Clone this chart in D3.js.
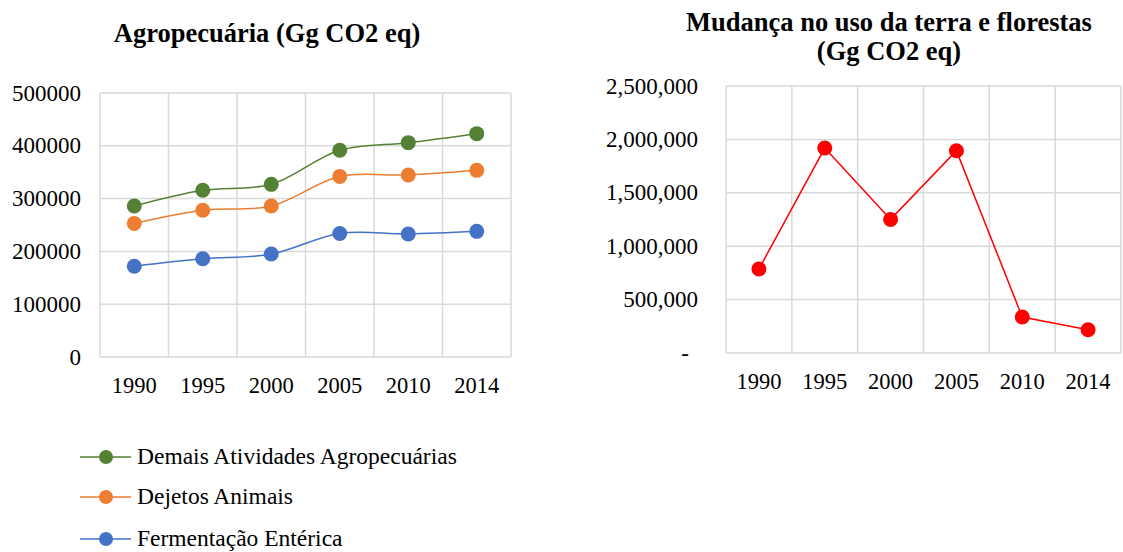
<!DOCTYPE html>
<html><head><meta charset="utf-8">
<script src="https://cdn.jsdelivr.net/npm/d3@7"></script>
<style>body{margin:0;background:#fff}</style>
</head><body><svg id="c" width="1123" height="552"></svg>
<script>
const years = ["1990","1995","2000","2005","2010","2014"];
const demais = [286000,315700,327000,391500,406000,423000];
const dejetos = [253000,278000,286000,342000,344700,353500];
const fermentacao = [172000,186000,195000,234000,233000,238000];
const mudanca = [786000,1919000,1251000,1894000,337000,218000];
const leftTicks = [0,100000,200000,300000,400000,500000];
const rightTicks = [0,500000,1000000,1500000,2000000,2500000];
const seriesNames = ["Demais Atividades Agropecuárias","Dejetos Animais","Fermentação Entérica"];
const seriesColors = ["#548235","#ED7D31","#4472C4"];

const FONT = "Liberation Serif";
const svg = d3.select("#c");
const grid = "#d9d9d9";

function panel(opts){
  const g = svg.append("g");
  const x = d3.scaleBand().domain(years).range([opts.x0, opts.x1]).padding(0);
  const y = d3.scaleLinear().domain([0, opts.max]).range([opts.y0, opts.y1]);
  g.selectAll(".hg").data(opts.ticks).join("line")
    .attr("x1", opts.x0).attr("x2", opts.x1)
    .attr("y1", d=>y(d)).attr("y2", d=>y(d))
    .attr("stroke", grid).attr("stroke-width", 1.5);
  const bounds = years.map(d=>x(d)).concat([opts.x1]);
  g.selectAll(".vg").data(bounds).join("line")
    .attr("x1", d=>d).attr("x2", d=>d)
    .attr("y1", y(opts.max)).attr("y2", y(0))
    .attr("stroke", grid).attr("stroke-width", 1.5);
  g.selectAll(".yl").data(opts.ticks).join("text")
    .attr("x", d=> d===0 && opts.dash ? opts.labelX - 9 : opts.labelX)
    .attr("y", d=>y(d)).attr("dy","0.33em")
    .attr("text-anchor","end").attr("font-family",FONT).attr("font-size",23).attr("fill","#000")
    .text(d=> opts.fmt(d));
  g.selectAll(".xl").data(years).join("text")
    .attr("x", d=>x(d)+x.bandwidth()/2).attr("y", opts.xLabelY)
    .attr("text-anchor","middle").attr("font-family",FONT).attr("font-size",22.5).attr("fill","#000")
    .text(d=>d);
  return {g,x,y};
}

// Left chart
const L = panel({x0:100,x1:511,y0:357,y1:93,max:500000,ticks:leftTicks,labelX:81,xLabelY:393,
  fmt:d=>String(d)});
[demais,dejetos,fermentacao].forEach((vals,i)=>{
  const pts = years.map((yr,j)=>[L.x(yr)+L.x.bandwidth()/2, L.y(vals[j])]);
  L.g.append("path").attr("d", d3.line().curve(d3.curveCatmullRom.alpha(0.5))(pts))
    .attr("fill","none").attr("stroke",seriesColors[i]).attr("stroke-width",1.5);
  L.g.selectAll(null).data(pts).join("circle")
    .attr("cx",d=>d[0]).attr("cy",d=>d[1]).attr("r",7.5).attr("fill",seriesColors[i]);
});

// Right chart
const fmtC = d3.format(",");
const R = panel({x0:726,x1:1121,y0:353,y1:86,max:2500000,ticks:rightTicks,labelX:698,xLabelY:389,dash:true,
  fmt:d=> d===0 ? "-" : fmtC(d)});
{
  const pts = years.map((yr,j)=>[R.x(yr)+R.x.bandwidth()/2, R.y(mudanca[j])]);
  R.g.append("path").attr("d", d3.line()(pts))
    .attr("fill","none").attr("stroke","#FF0000").attr("stroke-width",1.5);
  R.g.selectAll(null).data(pts).join("circle")
    .attr("cx",d=>d[0]).attr("cy",d=>d[1]).attr("r",7.5).attr("fill","#FF0000");
}

// Titles
function title(x,y,t){
  svg.append("text").attr("x",x).attr("y",y).attr("text-anchor","middle")
    .attr("font-family",FONT).attr("font-size",26.5).attr("font-weight","bold").text(t);
}
title(267,42,"Agropecuária (Gg CO2 eq)");
title(889,31,"Mudança no uso da terra e florestas");
title(889,60,"(Gg CO2 eq)");

// Legend
const legY = [457,497,539];
const lg = svg.append("g");
seriesNames.forEach((n,i)=>{
  lg.append("line").attr("x1",80).attr("x2",131).attr("y1",legY[i]).attr("y2",legY[i])
    .attr("stroke",seriesColors[i]).attr("stroke-width",1.5);
  lg.append("circle").attr("cx",106).attr("cy",legY[i]).attr("r",7).attr("fill",seriesColors[i]);
  lg.append("text").attr("x",137).attr("y",legY[i]).attr("dy","0.3em")
    .attr("font-family",FONT).attr("font-size",23.5).text(n);
});
</script></body></html>
